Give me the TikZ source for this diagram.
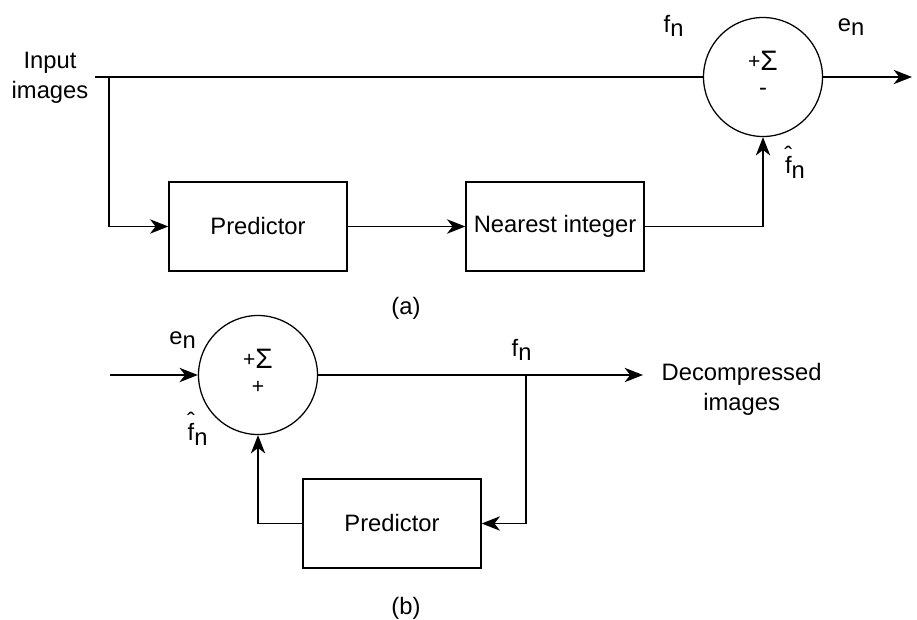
\documentclass[tikz,border=0pt]{standalone}
\usepackage{fontspec}
\setmainfont{Liberation Sans}
\usetikzlibrary{arrows.meta,positioning}
\newcommand{\lowsub}[1]{\raisebox{-0.18em}{#1}}
\newcommand{\hatf}{\makebox[0pt][l]{\makebox[0.278em]{\raisebox{0.46em}{ˆ}}}f}
\newcommand{\plussig}{\raisebox{0.1em}{\fontsize{15}{15}\selectfont +}{\fontsize{20}{20}\selectfont Σ}}
\newcommand{\sumtxt}[3]{\raisebox{#1}{\begin{tabular}{@{}c@{}}#2\\[-4pt]#3\end{tabular}}}

\begin{document}
\begin{tikzpicture}[font=\fontsize{16.9}{21.3}\selectfont,line width=0.9pt,
  >={Stealth[length=4.6mm,width=3.6mm,inset=1.4mm]},
  blk/.style={draw,minimum width=4.45cm,minimum height=2.225cm,inner sep=0pt},
  sum/.style={draw,circle,minimum size=2.975cm,inner sep=0pt}]
  \useasboundingbox (0,0) rectangle (22.925,-15.475);
  % (a): encoder
  \node[align=center] (inp) at (1.25,-1.95) {Input\\images};
  \coordinate (sa0) at (2.375,-1.925);
  \coordinate (ja) at (2.725,-1.925);
  \node[sum] (sa) at (19.075,-1.925) {\sumtxt{-0.22cm}{\plussig}{-}};
  \coordinate (oa) at (22.8,-1.925);
  \node[blk] (pa) at (6.45,-5.6625) {Predictor};
  \node[blk] (ni) at (13.875,-5.6625) {Nearest integer};
  \draw (sa0) -- (sa);
  \draw[->] (sa) -- (oa);
  \draw[->] (ja) |- (pa);
  \draw[->] (pa) -- (ni);
  \draw[->] (ni) -| (sa);
  \node (fa) at (16.84,-0.65) {f\lowsub{n}};
  \node (ea) at (21.275,-0.675) {e\lowsub{n}};
  \node (fha) at (19.875,-4.05) {\hatf\lowsub{n}};
  \node (capa) at (10.15,-7.7) {(a)};
  % (b): decoder
  \coordinate (ib) at (2.75,-9.375);
  \node[sum] (sb) at (6.45,-9.375) {\sumtxt{-0.05cm}{\plussig}{\fontsize{15}{15}\selectfont +}};
  \coordinate (ob) at (16.075,-9.375);
  \coordinate (jb) at (13.15,-9.375);
  \node[align=center] (dec) at (18.54,-9.725) {Decompressed\\images};
  \node[blk] (pb) at (9.8,-13.0875) {Predictor};
  \draw[->] (ib) -- (sb);
  \draw[->] (sb) -- (ob);
  \draw[->] (jb) |- (pb);
  \draw[->] (pb) -| (sb);
  \node (eb) at (4.5625,-8.5) {e\lowsub{n}};
  \node (fhb) at (4.94,-10.72) {\hatf\lowsub{n}};
  \node (fb) at (13.04,-8.75) {f\lowsub{n}};
  \node (capb) at (10.15,-15.2) {(b)};
\end{tikzpicture}
\end{document}
